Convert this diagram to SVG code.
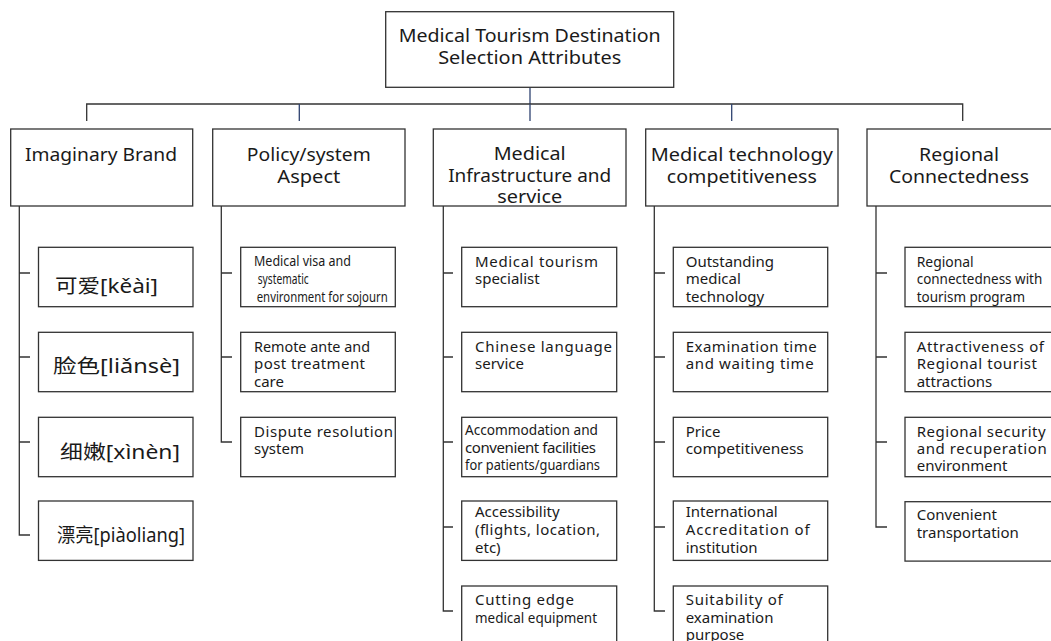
<svg xmlns="http://www.w3.org/2000/svg" width="1051" height="641" viewBox="0 0 1051 641">
<style>
.box{fill:#fff;stroke:#333;stroke-width:1.3}
.ln{fill:none;stroke:#333;stroke-width:1.3}
.nv{fill:none;stroke:#2f4370;stroke-width:1.3}
.t{font-family:"Noto Sans","Open Sans","DejaVu Sans",sans-serif;fill:#1a1a1a}
.h{font-size:18px;text-anchor:middle}
.c{font-size:15px}
.cj{font-family:"Noto Sans","Noto Sans CJK SC",sans-serif;font-size:19.5px;fill:#1a1a1a}
</style>
<rect width="1051" height="641" fill="#fff"/>
<g id="connectors">
<path class="nv" d="M530 87.5V104"/>
<path class="ln" d="M86.7 121V104H962.7V121"/>
<path class="nv" d="M299.3 104V121M530 104V121M731.7 104V121"/>
<path class="ln" d="M19.3 206V535H30M19.3 273H30M19.3 357H30M19.3 442H30"/>
<path class="ln" d="M221.3 206V442H232M221.3 273H232M221.3 357H232"/>
<path class="ln" d="M443.3 206V611H453M443.3 273H453M443.3 357H453M443.3 442H453M443.3 527H453"/>
<path class="ln" d="M654.3 206V611H665M654.3 273H665M654.3 357H665M654.3 442H665M654.3 527H665"/>
<path class="ln" d="M876 206V527H887M876 273H887M876 357H887M876 442H887"/>
</g>
<g id="root">
<rect class="box" x="385.7" y="11.7" width="288" height="75.6"/>
<text class="t h" x="529.7" y="42" textLength="262" lengthAdjust="spacingAndGlyphs">Medical Tourism Destination</text>
<text class="t h" x="529.7" y="63.5" textLength="183" lengthAdjust="spacingAndGlyphs">Selection Attributes</text>
</g>
<g id="cat-brand">
<rect class="box" x="10.7" y="129" width="182" height="77"/>
<text class="t h" x="101" y="161" textLength="152" lengthAdjust="spacingAndGlyphs">Imaginary Brand</text>
</g>
<g id="cat-policy">
<rect class="box" x="212.7" y="129" width="192.3" height="77"/>
<text class="t h" x="308.8" y="161" textLength="124" lengthAdjust="spacingAndGlyphs">Policy/system</text>
<text class="t h" x="308.8" y="183" textLength="63" lengthAdjust="spacingAndGlyphs">Aspect</text>
</g>
<g id="cat-infra">
<rect class="box" x="433.3" y="129" width="192.7" height="77"/>
<text class="t h" x="529.7" y="160" textLength="72" lengthAdjust="spacingAndGlyphs">Medical</text>
<text class="t h" x="529.7" y="182" textLength="163" lengthAdjust="spacingAndGlyphs">Infrastructure and</text>
<text class="t h" x="529.7" y="203" textLength="65" lengthAdjust="spacingAndGlyphs">service</text>
</g>
<g id="cat-tech">
<rect class="box" x="645.7" y="129" width="192.3" height="77"/>
<text class="t h" x="741.8" y="161" textLength="182" lengthAdjust="spacingAndGlyphs">Medical technology</text>
<text class="t h" x="741.8" y="183" textLength="150" lengthAdjust="spacingAndGlyphs">competitiveness</text>
</g>
<g id="cat-region">
<rect class="box" x="867" y="129" width="190" height="77"/>
<text class="t h" x="959" y="161" textLength="80" lengthAdjust="spacingAndGlyphs">Regional</text>
<text class="t h" x="959" y="183" textLength="140" lengthAdjust="spacingAndGlyphs">Connectedness</text>
</g>
<g id="b1">
<rect class="box" x="38.5" y="247.3" width="154.5" height="59.4"/>
<text class="cj" x="55" y="293" textLength="103" lengthAdjust="spacingAndGlyphs">可爱[kěài]</text>
</g>
<g id="b2">
<rect class="box" x="38.5" y="332.3" width="154.5" height="59.4"/>
<text class="cj" x="53" y="373" textLength="127" lengthAdjust="spacingAndGlyphs">脸色[liǎnsè]</text>
</g>
<g id="b3">
<rect class="box" x="38.5" y="417.3" width="154.5" height="59.4"/>
<text class="cj" x="60" y="459" textLength="120" lengthAdjust="spacingAndGlyphs">细嫩[xìnèn]</text>
</g>
<g id="b4">
<rect class="box" x="38.5" y="501" width="154.5" height="59.4"/>
<text class="cj" x="57" y="542" textLength="128" lengthAdjust="spacingAndGlyphs">漂亮[piàoliang]</text>
</g>
<g id="p1">
<rect class="box" x="240.7" y="247.3" width="154.6" height="59.4"/>
<text class="t c" x="254" y="266" textLength="97" lengthAdjust="spacingAndGlyphs">Medical visa and</text>
<text class="t c" x="257.7" y="284" textLength="51" lengthAdjust="spacingAndGlyphs">systematic</text>
<text class="t c" x="256.7" y="301.7" textLength="131" lengthAdjust="spacingAndGlyphs">environment for sojourn</text>
</g>
<g id="p2">
<rect class="box" x="240.7" y="332.3" width="154.6" height="59.4"/>
<text class="t c" x="254" y="351.7" textLength="116" lengthAdjust="spacingAndGlyphs">Remote ante and</text>
<text class="t c" x="254" y="369.3" textLength="111" lengthAdjust="spacing">post treatment</text>
<text class="t c" x="254" y="386.7">care</text>
</g>
<g id="p3">
<rect class="box" x="240.7" y="417.3" width="154.6" height="59.4"/>
<text class="t c" x="254" y="436.7" textLength="139" lengthAdjust="spacing">Dispute resolution</text>
<text class="t c" x="254" y="454">system</text>
</g>
<g id="i1">
<rect class="box" x="461.7" y="247.3" width="155" height="59.4"/>
<text class="t c" x="475" y="266.7" textLength="123" lengthAdjust="spacing">Medical tourism</text>
<text class="t c" x="475" y="284.3">specialist</text>
</g>
<g id="i2">
<rect class="box" x="461.7" y="332.3" width="155" height="59.4"/>
<text class="t c" x="475" y="351.7" textLength="137" lengthAdjust="spacing">Chinese language</text>
<text class="t c" x="475" y="369.3">service</text>
</g>
<g id="i3">
<rect class="box" x="461.7" y="417.3" width="155" height="59.4"/>
<text class="t c" x="465" y="435" textLength="133" lengthAdjust="spacingAndGlyphs">Accommodation and</text>
<text class="t c" x="465" y="452.7" textLength="131" lengthAdjust="spacing">convenient  facilities</text>
<text class="t c" x="465" y="470" textLength="135" lengthAdjust="spacingAndGlyphs">for patients/guardians</text>
</g>
<g id="i4">
<rect class="box" x="461.7" y="501" width="155" height="59.4"/>
<text class="t c" x="475" y="516.7">Accessibility</text>
<text class="t c" x="475" y="535" textLength="125" lengthAdjust="spacing">(flights, location,</text>
<text class="t c" x="475" y="552.7">etc)</text>
</g>
<g id="i5">
<rect class="box" x="461.7" y="586" width="155" height="59.4"/>
<text class="t c" x="475" y="605" textLength="99" lengthAdjust="spacing">Cutting edge</text>
<text class="t c" x="475" y="622.7" textLength="122" lengthAdjust="spacingAndGlyphs">medical equipment</text>
</g>
<g id="m1">
<rect class="box" x="673.3" y="247.3" width="154.4" height="59.4"/>
<text class="t c" x="685.7" y="266.7">Outstanding</text>
<text class="t c" x="685.7" y="284.3">medical</text>
<text class="t c" x="685.7" y="301.7">technology</text>
</g>
<g id="m2">
<rect class="box" x="673.3" y="332.3" width="154.4" height="59.4"/>
<text class="t c" x="685.7" y="351.7" textLength="131" lengthAdjust="spacing">Examination time</text>
<text class="t c" x="685.7" y="369.3" textLength="128" lengthAdjust="spacing">and waiting time</text>
</g>
<g id="m3">
<rect class="box" x="673.3" y="417.3" width="154.4" height="59.4"/>
<text class="t c" x="685.7" y="436.7">Price</text>
<text class="t c" x="685.7" y="454" textLength="118" lengthAdjust="spacingAndGlyphs">competitiveness</text>
</g>
<g id="m4">
<rect class="box" x="673.3" y="501" width="154.4" height="59.4"/>
<text class="t c" x="685.7" y="516.7">International</text>
<text class="t c" x="685.7" y="535" textLength="124" lengthAdjust="spacing">Accreditation of</text>
<text class="t c" x="685.7" y="552.7">institution</text>
</g>
<g id="m5">
<rect class="box" x="673.3" y="586" width="154.4" height="59.4"/>
<text class="t c" x="685.7" y="605" textLength="97" lengthAdjust="spacing">Suitability of</text>
<text class="t c" x="685.7" y="622.7">examination</text>
<text class="t c" x="685.7" y="640">purpose</text>
</g>
<g id="r1">
<rect class="box" x="905" y="247.3" width="152" height="59.4"/>
<text class="t c" x="916.7" y="266.7" textLength="57" lengthAdjust="spacingAndGlyphs">Regional</text>
<text class="t c" x="916.7" y="284.3" textLength="125.6" lengthAdjust="spacingAndGlyphs">connectedness with</text>
<text class="t c" x="916.7" y="301.7" textLength="108.3" lengthAdjust="spacingAndGlyphs">tourism program</text>
</g>
<g id="r2">
<rect class="box" x="905" y="332.3" width="152" height="59.4"/>
<text class="t c" x="916.7" y="351.7" textLength="127.3" lengthAdjust="spacing">Attractiveness of</text>
<text class="t c" x="916.7" y="369.3" textLength="120.3" lengthAdjust="spacing">Regional tourist</text>
<text class="t c" x="916.7" y="386.7">attractions</text>
</g>
<g id="r3">
<rect class="box" x="905" y="417.3" width="152" height="59.4"/>
<text class="t c" x="916.7" y="436.7" textLength="129" lengthAdjust="spacing">Regional security</text>
<text class="t c" x="916.7" y="454" textLength="130" lengthAdjust="spacing">and recuperation</text>
<text class="t c" x="916.7" y="471.3">environment</text>
</g>
<g id="r4">
<rect class="box" x="905" y="501.7" width="152" height="59.4"/>
<text class="t c" x="916.7" y="520">Convenient</text>
<text class="t c" x="916.7" y="537.7">transportation</text>
</g>
</svg>
